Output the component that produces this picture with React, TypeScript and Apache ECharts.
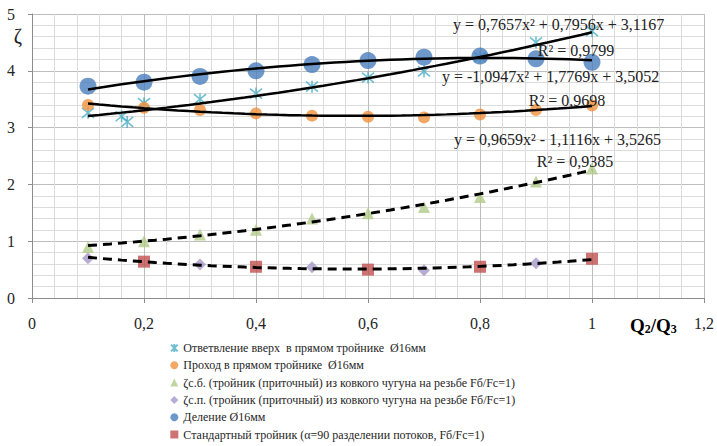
import React, { useEffect, useRef } from "react";
import * as echarts from "echarts";

// ---- data ----
const xMain = [0.1, 0.2, 0.3, 0.4, 0.5, 0.6, 0.7, 0.8, 0.9, 1.0];

const cyanX = [0.1, 0.16, 0.17, 0.2, 0.3, 0.4, 0.5, 0.6, 0.7, 0.8, 0.9, 1.0];
const cyanY = [3.26, 3.2, 3.1, 3.43, 3.5, 3.6, 3.72, 3.88, 3.99, 4.24, 4.5, 4.7];

const orangeY = [3.4, 3.35, 3.31, 3.25, 3.21, 3.19, 3.18, 3.23, 3.31, 3.39];
const greenY = [0.9, 1.0, 1.12, 1.2, 1.4, 1.49, 1.6, 1.78, 2.05, 2.28];
const blueY = [3.73, 3.8, 3.9, 4.0, 4.11, 4.18, 4.24, 4.26, 4.21, 4.15];

const purpleX = [0.1, 0.3, 0.5, 0.7, 0.9];
const purpleY = [0.7, 0.59, 0.54, 0.49, 0.61];

const redX = [0.2, 0.4, 0.6, 0.8, 1.0];
const redY = [0.64, 0.55, 0.5, 0.55, 0.69];

// trendline coefficients shown in the chart [a, b, c] for a x^2 + b x + c
const cyanCoef = [0.7657, 0.7956, 3.1167];
const blueCoef = [-1.0947, 1.7769, 3.5052];
const orangeCoef = [0.9659, -1.1116, 3.5265];
const r2Labels = ["0,9799", "0,9698", "0,9385"];

const xTicks = ["0", "0,2", "0,4", "0,6", "0,8", "1", "1,2"];

const seriesNames = [
  "Ответвление вверх  в прямом тройнике  Ø16мм",
  "Проход в прямом тройнике  Ø16мм",
  "ζс.б. (тройник (приточный) из ковкого чугуна на резьбе Fб/Fc=1)",
  "ζс.п. (тройник (приточный) из ковкого чугуна на резьбе Fб/Fc=1)",
  "Деление Ø16мм",
  "Стандартный тройник (α=90 разделении потоков, Fб/Fc=1)",
];

// ---- helpers ----
const zip = (xs: number[], ys: number[]) => xs.map((x, i) => [x, ys[i]]);

function quadFit(xs: number[], ys: number[]): number[] {
  let s0 = 0, s1 = 0, s2 = 0, s3 = 0, s4 = 0, t0 = 0, t1 = 0, t2 = 0;
  xs.forEach((x, i) => {
    const y = ys[i];
    s0 += 1; s1 += x; s2 += x * x; s3 += x * x * x; s4 += x * x * x * x;
    t0 += y; t1 += x * y; t2 += x * x * y;
  });
  const M = [
    [s4, s3, s2, t2],
    [s3, s2, s1, t1],
    [s2, s1, s0, t0],
  ];
  for (let i = 0; i < 3; i++) {
    for (let k = i + 1; k < 3; k++) {
      const f = M[k][i] / M[i][i];
      for (let j = i; j < 4; j++) M[k][j] -= f * M[i][j];
    }
  }
  const r = [0, 0, 0];
  for (let i = 2; i >= 0; i--) {
    let s = M[i][3];
    for (let j = i + 1; j < 3; j++) s -= M[i][j] * r[j];
    r[i] = s / M[i][i];
  }
  return r;
}

function curve(coef: number[], x0: number, x1: number) {
  const pts: number[][] = [];
  const n = 45;
  for (let i = 0; i <= n; i++) {
    const x = x0 + ((x1 - x0) * i) / n;
    pts.push([x, coef[0] * x * x + coef[1] * x + coef[2]]);
  }
  return pts;
}

const fmt = (v: number) => Math.abs(v).toFixed(4).replace(".", ",");
function eqText(c: number[]) {
  const a = (c[0] < 0 ? "-" : "") + fmt(c[0]);
  const b = (c[1] < 0 ? " - " : " + ") + fmt(c[1]);
  const cc = (c[2] < 0 ? " - " : " + ") + fmt(c[2]);
  return `y = ${a}x²${b}x${cc}`;
}

const FONT = "Liberation Serif";

export default function App() {
  const ref = useRef<HTMLDivElement>(null);

  useEffect(() => {
    if (!ref.current) return;
    const chart = echarts.init(ref.current, undefined, { renderer: "svg" });

    const greenCoef = quadFit(xMain, greenY);
    const bottomCoef = quadFit(purpleX.concat(redX), purpleY.concat(redY));

    const trend = (data: number[][], dashed: boolean) => ({
      type: "line",
      data,
      showSymbol: false,
      symbol: "none",
      silent: true,
      smooth: false,
      z: 5,
      lineStyle: {
        color: "#000",
        width: dashed ? 3 : 2.5,
        type: dashed ? [9, 6] : "solid",
      },
    });

    const eqStyle = (text: string, x: number, y: number, align: string) => ({
      type: "text",
      x,
      y,
      z: 10,
      style: {
        text,
        fill: "#222",
        font: `16px ${FONT}`,
        textAlign: align,
        align,
        textVerticalAlign: "middle",
        verticalAlign: "middle",
      },
    });

    chart.setOption({
      animation: false,
      backgroundColor: "#fff",
      textStyle: { fontFamily: FONT },
      grid: { left: 32, top: 14, right: 10, bottom: 148, containLabel: false },
      xAxis: {
        type: "value",
        min: 0,
        max: 1.2,
        interval: 0.2,
        axisLine: { show: true, lineStyle: { color: "#8c8c8c", width: 1 } },
        axisTick: { show: true, length: 5, lineStyle: { color: "#8c8c8c" } },
        axisLabel: {
          margin: 17,
          color: "#262626",
          fontFamily: FONT,
          fontSize: 16,
          formatter: (v: number) => xTicks[Math.round(v / 0.2)] ?? "",
        },
        splitLine: { show: true, lineStyle: { color: "#bdbdbd", width: 1 } },
        minorTick: { show: true, splitNumber: 5, length: 0, lineStyle: { color: "rgba(0,0,0,0)" } },
        minorSplitLine: { show: true, lineStyle: { color: "#dcdcdc", width: 1 } },
      },
      yAxis: {
        type: "value",
        min: 0,
        max: 5,
        interval: 1,
        axisLine: { show: true, lineStyle: { color: "#8c8c8c", width: 1 } },
        axisTick: { show: true, length: 4, lineStyle: { color: "#8c8c8c" } },
        axisLabel: {
          margin: 17,
          color: "#262626",
          fontFamily: FONT,
          fontSize: 16,
        },
        splitLine: { show: true, lineStyle: { color: "#bdbdbd", width: 1 } },
        minorTick: { show: true, splitNumber: 5, length: 0, lineStyle: { color: "rgba(0,0,0,0)" } },
        minorSplitLine: { show: true, lineStyle: { color: "#dcdcdc", width: 1 } },
      },
      legend: {
        orient: "vertical",
        left: 170,
        top: 341,
        itemWidth: 8,
        itemHeight: 8,
        itemGap: 3.3,
        padding: 0,
        data: seriesNames,
        textStyle: { fontFamily: FONT, fontSize: 12, color: "#262626", lineHeight: 14 },
      },
      series: [
        {
          name: seriesNames[0],
          type: "scatter",
          data: zip(cyanX, cyanY),
          symbol: "path://M0 0 L10 10 M10 0 L0 10 M5 -1 L5 11",
          symbolSize: 12,
          z: 2,
          itemStyle: { color: "rgba(0,0,0,0)", borderColor: "#4bacc6", borderWidth: 1.6 },
        },
        {
          name: seriesNames[1],
          type: "scatter",
          data: zip(xMain, orangeY),
          symbol: "circle",
          symbolSize: 12,
          z: 2,
          itemStyle: { color: "#f0913f" },
        },
        {
          name: seriesNames[2],
          type: "scatter",
          data: zip(xMain, greenY),
          symbol: "triangle",
          symbolSize: 12,
          z: 2,
          itemStyle: { color: "#b2cb8a" },
        },
        {
          name: seriesNames[3],
          type: "scatter",
          data: zip(purpleX, purpleY),
          symbol: "diamond",
          symbolSize: 12,
          z: 2,
          itemStyle: { color: "#a597c6" },
        },
        {
          name: seriesNames[4],
          type: "scatter",
          data: zip(xMain, blueY),
          symbol: "circle",
          symbolSize: 17,
          z: 2,
          itemStyle: { color: "#4a7ebb" },
        },
        {
          name: seriesNames[5],
          type: "scatter",
          data: zip(redX, redY),
          symbol: "rect",
          symbolSize: 12,
          z: 2,
          itemStyle: { color: "#c0504d" },
        },
        trend(curve(cyanCoef, 0.1, 1.0), false),
        trend(curve(blueCoef, 0.1, 1.0), false),
        trend(curve(orangeCoef, 0.1, 1.0), false),
        trend(curve(greenCoef, 0.1, 1.0), true),
        trend(curve(bottomCoef, 0.1, 1.0), true),
      ],
      graphic: [
        eqStyle(eqText(cyanCoef), 453, 24, "left"),
        eqStyle(`R² = ${r2Labels[0]}`, 576, 50, "center"),
        eqStyle(eqText(blueCoef), 442, 76, "left"),
        eqStyle(`R² = ${r2Labels[1]}`, 567, 100, "center"),
        eqStyle(eqText(orangeCoef), 454, 139, "left"),
        eqStyle(`R² = ${r2Labels[2]}`, 575, 161, "center"),
        {
          type: "text",
          x: 18,
          y: 36,
          style: {
            text: "ζ",
            fill: "#222",
            font: `20px ${FONT}`,
            textAlign: "center",
            align: "center",
            textVerticalAlign: "middle",
            verticalAlign: "middle",
          },
        },
        {
          type: "text",
          x: 630,
          y: 324,
          style: {
            text: "{a|Q}{s|2}{a|/Q}{s|3}",
            fill: "#000",
            textVerticalAlign: "middle",
            verticalAlign: "middle",
            rich: {
              a: { fontFamily: FONT, fontSize: 19, fontWeight: "bold", fill: "#000", color: "#000", lineHeight: 22, verticalAlign: "bottom" },
              s: { fontFamily: FONT, fontSize: 12, fontWeight: "bold", fill: "#000", color: "#000", lineHeight: 14, verticalAlign: "bottom", padding: [8, 0, 0, 0] },
            },
          },
        },
      ],
    });

    return () => chart.dispose();
  }, []);

  return (
    <div
      ref={ref}
      style={{ position: "absolute", left: 0, top: 0, width: 717, height: 446 }}
    />
  );
}
